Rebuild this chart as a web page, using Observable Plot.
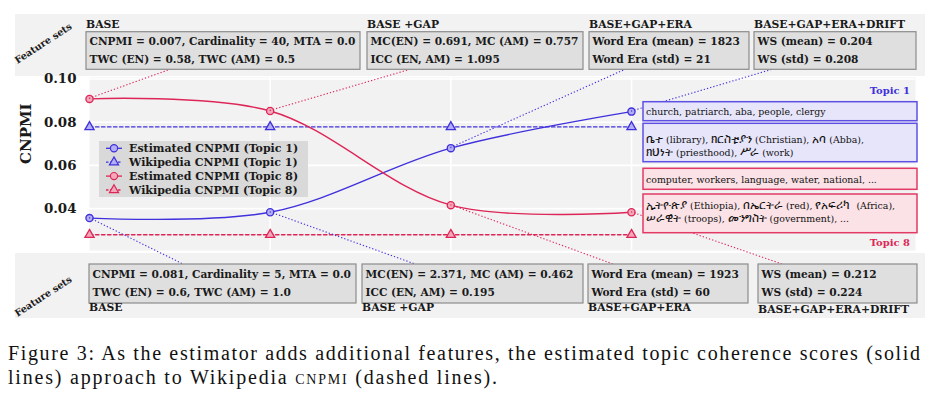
<!DOCTYPE html>
<html><head><meta charset="utf-8">
<script src="https://cdn.jsdelivr.net/npm/d3@7"></script>
<script src="https://cdn.jsdelivr.net/npm/@observablehq/plot@0.6"></script>
<style>
body{margin:0;background:#fff;}
</style></head><body><div id="chart"></div>
<script>
// ---------------- data ----------------
const features = ["BASE", "BASE +GAP", "BASE+GAP+ERA", "BASE+GAP+ERA+DRIFT"];
const featureIndex = [0, 1, 2, 3];
const estTopic1  = [0.0356, 0.0383, 0.0680, 0.0849];
const wikiTopic1 = [0.0778, 0.0778, 0.0778, 0.0778];
const estTopic8  = [0.0908, 0.0852, 0.0416, 0.0383];
const wikiTopic8 = [0.0279, 0.0279, 0.0279, 0.0279];
const yTicks = [0.04, 0.06, 0.08, 0.10];
const seriesNames = ["Estimated CNPMI (Topic 1)", "Wikipedia CNPMI (Topic 1)", "Estimated CNPMI (Topic 8)", "Wikipedia CNPMI (Topic 8)"];
const topStats = [
  ["CNPMI = 0.007, Cardinality = 40, MTA = 0.0", "TWC (EN) = 0.58, TWC (AM) = 0.5"],
  ["MC(EN) = 0.691, MC (AM) = 0.757", "ICC (EN, AM) = 1.095"],
  ["Word Era (mean) = 1823", "Word Era (std) = 21"],
  ["WS (mean) = 0.204", "WS (std) = 0.208"]
];
const bottomStats = [
  ["CNPMI = 0.081, Cardinality = 5, MTA = 0.0", "TWC (EN) = 0.6, TWC (AM) = 1.0"],
  ["MC(EN) = 2.371, MC (AM) = 0.462", "ICC (EN, AM) = 0.195"],
  ["Word Era (mean) = 1923", "Word Era (std) = 60"],
  ["WS (mean) = 0.212", "WS (std) = 0.224"]
];
const topic1English = ["church, patriarch, aba, people, clergy"];
const topic1Amharic = ["ቤተ (library), ክርስቲያን (Christian), አባ (Abba),", "ክህነት (priesthood), ሥራ (work)"];
const topic8English = ["computer, workers, language, water, national, ..."];
const topic8Amharic = ["ኢትዮጵያ (Ethiopia), በኤርትራ (red), የአፍሪካ  (Africa),", "ሠራዊት (troops), መንግስት (government), ..."];
const captionLines = ["Figure 3: As the estimator adds additional features, the estimated topic coherence scores (solid", "lines) approach to Wikipedia "];

// ---------------- style ----------------
const BLUE = "#3f30dc", RED = "#dd2657";
const BLUE_FILL = "#b4aff3", RED_FILL = "#f3a9ba";
const BG = "#f2f2f2";
const SERIF = "'DejaVu Serif', 'Noto Sans', serif";

const rows = s => featureIndex.map((i, k) => ({i, v: s[k]}));

const chart = Plot.plot({
  width: 925, height: 395,
  marginLeft: 89, marginRight: 10, marginTop: 77, marginBottom: 145,
  x: {domain: [0, 4.572], axis: null},
  y: {domain: [0.0206, 0.1007], axis: null},
  style: {fontFamily: SERIF, background: "white", overflow: "visible"},
  marks: [
    Plot.frame({fill: BG, stroke: null}),
    Plot.ruleY(yTicks, {stroke: "#fff", strokeWidth: 1.6}),
    Plot.ruleX([1, 2, 3], {stroke: "#fff", strokeWidth: 1.6}),
    Plot.line(rows(wikiTopic1), {x: "i", y: "v", stroke: BLUE, strokeWidth: 1.3, strokeDasharray: "3.5,2.5"}),
    Plot.line(rows(wikiTopic8), {x: "i", y: "v", stroke: RED, strokeWidth: 1.3, strokeDasharray: "3.5,2.5"}),
    Plot.line(rows(estTopic1), {x: "i", y: "v", stroke: BLUE, strokeWidth: 1.4, curve: "catmull-rom"}),
    Plot.line(rows(estTopic8), {x: "i", y: "v", stroke: RED, strokeWidth: 1.4, curve: "catmull-rom"}),
    Plot.dot(rows(wikiTopic1), {x: "i", y: "v", symbol: "triangle", r: 3.4, fill: BLUE_FILL, stroke: BLUE, strokeWidth: 1.3}),
    Plot.dot(rows(wikiTopic8), {x: "i", y: "v", symbol: "triangle", r: 3.4, fill: RED_FILL, stroke: RED, strokeWidth: 1.3}),
    Plot.dot(rows(estTopic1), {x: "i", y: "v", r: 3.6, fill: BLUE_FILL, stroke: BLUE, strokeWidth: 1.3}),
    Plot.dot(rows(estTopic8), {x: "i", y: "v", r: 3.6, fill: RED_FILL, stroke: RED, strokeWidth: 1.3}),
    Plot.text(yTicks, {y: d => d, frameAnchor: "left", dx: -13, textAnchor: "end", text: d => d.toFixed(2),
      fontWeight: "bold", fontSize: 13.4, fill: "#1a1a1a"}),
    Plot.text(["CNPMI"], {frameAnchor: "left", dx: -63, rotate: -90, text: d => d,
      fontWeight: "bold", fontSize: 15, fill: "#1a1a1a"})
  ]
});
document.getElementById("chart").appendChild(chart);

// ---------------- annotations ----------------
const svg = d3.select(chart);
const sx = chart.scale("x"), sy = chart.scale("y");
const X = d3.scaleLinear(sx.domain, sx.range);
const Y = d3.scaleLinear(sy.domain, sy.range);

// band backgrounds (behind everything)
const back = svg.insert("g", ":first-child");
back.append("rect").attr("x", 15).attr("y", 14).attr("width", 910).attr("height", 62).attr("fill", BG);
back.append("rect").attr("x", 15).attr("y", 253).attr("width", 910).attr("height", 65).attr("fill", BG);

const ann = svg.append("g").attr("font-family", SERIF).attr("text-anchor", "start");

function txt(g, x, y, s, o = {}) {
  const t = g.append("text").attr("x", x).attr("y", y)
    .attr("font-size", o.size || 10.6).attr("font-weight", o.weight || "bold")
    .attr("fill", o.fill || "#1a1a1a").attr("text-anchor", o.anchor || "start");
  if (o.ethiopic) {
    // render Ethiopic runs a little larger, like the reference's Ge'ez font
    s.split(/([\u1200-\u137F]+)/).filter(p => p.length).forEach(p => {
      const sp = t.append("tspan").text(p);
      if (/[\u1200-\u137F]/.test(p)) sp.attr("font-size", o.ethiopic);
    });
  } else t.text(s);
  if (o.transform) t.attr("transform", o.transform);
  if (o.baseline) t.attr("dominant-baseline", o.baseline);
  return t;
}

// feature-set boxes
const topBoxes = [{x0: 86, x1: 360, a: 170}, {x0: 367, x1: 583, a: 410}, {x0: 589, x1: 749, a: 625}, {x0: 754, x1: 916, a: 772}];
const botBoxes = [{x0: 89, x1: 356, a: 183}, {x0: 362, x1: 583, a: 415}, {x0: 588, x1: 748, a: 613}, {x0: 758, x1: 917, a: 782}];
const topSeries = [[estTopic8, RED], [estTopic8, RED], [estTopic1, BLUE], [estTopic1, BLUE]];
const botSeries = [[estTopic1, BLUE], [estTopic1, BLUE], [estTopic8, RED], [estTopic8, RED]];
const TOP_Y0 = 31.7, TOP_Y1 = 69.3, BOT_Y0 = 264, BOT_Y1 = 303;

// connectors (dotted) from data points to boxes
const conn = ann.append("g").attr("fill", "none").attr("stroke-width", 1.1).attr("stroke-dasharray", "1.3,2");
featureIndex.forEach(i => {
  const [ts, tc] = topSeries[i];
  conn.append("line").attr("x1", X(i)).attr("y1", Y(ts[i])).attr("x2", topBoxes[i].a).attr("y2", TOP_Y1).attr("stroke", tc);
  const [bs, bc] = botSeries[i];
  conn.append("line").attr("x1", X(i)).attr("y1", Y(bs[i])).attr("x2", botBoxes[i].a).attr("y2", BOT_Y0).attr("stroke", bc);
});

features.forEach((f, i) => {
  const tb = topBoxes[i];
  ann.append("rect").attr("x", tb.x0).attr("y", TOP_Y0).attr("width", tb.x1 - tb.x0).attr("height", TOP_Y1 - TOP_Y0)
    .attr("fill", "#dfdfdf").attr("stroke", "#8c8c8c").attr("stroke-width", 1.2);
  txt(ann, tb.x0, 27.5, f, {size: 10.8});
  txt(ann, tb.x0 + 3.5, 45.3, topStats[i][0]);
  txt(ann, tb.x0 + 3.5, 62.8, topStats[i][1]);

  const bb = botBoxes[i];
  ann.append("rect").attr("x", bb.x0).attr("y", BOT_Y0).attr("width", bb.x1 - bb.x0).attr("height", BOT_Y1 - BOT_Y0)
    .attr("fill", "#dfdfdf").attr("stroke", "#8c8c8c").attr("stroke-width", 1.2);
  txt(ann, bb.x0 + 3.5, 278, bottomStats[i][0]);
  txt(ann, bb.x0 + 3.5, 296.3, bottomStats[i][1]);
  txt(ann, bb.x0, i === 3 ? 313 : 311, f, {size: 10.8});
});

txt(ann, 0, 0, "Feature sets", {size: 9.6, anchor: "middle", transform: "translate(45,46) rotate(-33)"});
txt(ann, 0, 0, "Feature sets", {size: 9.6, anchor: "middle", transform: "translate(45,299) rotate(-33)"});

// legend
const leg = ann.append("g");
leg.append("rect").attr("x", 99).attr("y", 141).attr("width", 209).attr("height", 56).attr("fill", "#d9d9d9");
const legStyle = [[BLUE, BLUE_FILL, false], [BLUE, BLUE_FILL, true], [RED, RED_FILL, false], [RED, RED_FILL, true]];
seriesNames.forEach((name, k) => {
  const y = 148.3 + k * 13.9;
  const [c, f, dashed] = legStyle[k];
  leg.append("line").attr("x1", 106).attr("x2", 122).attr("y1", y).attr("y2", y).attr("stroke", c).attr("stroke-width", 1.3)
    .attr("stroke-dasharray", dashed ? "2.5,1.5" : null);
  leg.append("path").attr("transform", `translate(114,${y})`)
    .attr("d", d3.symbol(dashed ? d3.symbolTriangle : d3.symbolCircle, Math.PI * (dashed ? 3.4 * 3.4 : 3.6 * 3.6))())
    .attr("fill", f).attr("stroke", c).attr("stroke-width", 1.2);
  txt(leg, 129, y, name, {size: 11, baseline: "central"});
});

// topic word boxes
function wordBox(y0, y1, fill, stroke) {
  ann.append("rect").attr("x", 643).attr("y", y0).attr("width", 274).attr("height", y1 - y0)
    .attr("fill", fill).attr("stroke", stroke).attr("stroke-width", 1.5);
}
wordBox(101.7, 120.7, "#e7e5fa", "#5d50e2");
wordBox(123.3, 161.7, "#e7e5fa", "#5d50e2");
wordBox(168.3, 189.3, "#fbe2e6", "#e23a64");
wordBox(194, 232.7, "#fbe2e6", "#e23a64");
const wopt = {size: 9.4, weight: "normal", fill: "#111"};
const aopt = {size: 9.4, weight: "normal", fill: "#111", ethiopic: 11.5};
txt(ann, 646, 114.8, topic1English[0], wopt);
txt(ann, 646, 142.5, topic1Amharic[0], aopt);
txt(ann, 646, 156.3, topic1Amharic[1], aopt);
txt(ann, 646, 182.5, topic8English[0], wopt);
txt(ann, 646, 208.5, topic8Amharic[0], aopt);
txt(ann, 646, 222.3, topic8Amharic[1], aopt);
txt(ann, 910, 93.5, "Topic 1", {size: 10, fill: BLUE, anchor: "end"});
txt(ann, 910, 246, "Topic 8", {size: 10, fill: RED, anchor: "end"});

// caption
const cap = svg.append("g").attr("font-family", "'Liberation Serif', serif").attr("font-size", 20)
  .attr("fill", "#111").attr("text-anchor", "start");
cap.append("text").attr("x", 8).attr("y", 360).attr("textLength", 912).attr("lengthAdjust", "spacing").text(captionLines[0]);
const l2 = cap.append("text").attr("x", 8).attr("y", 383.5).attr("textLength", 489).attr("lengthAdjust", "spacing");
l2.append("tspan").text(captionLines[1]);
l2.append("tspan").attr("font-variant", "small-caps").text("cnpmi");
l2.append("tspan").text(" (dashed lines).");
</script></body></html>
